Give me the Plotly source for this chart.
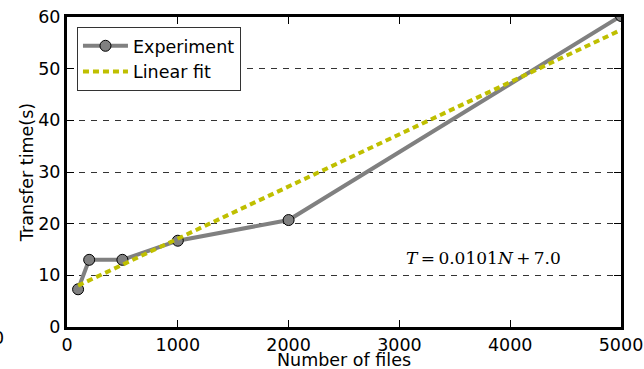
import plotly.graph_objects as go

# Data
n_files = [100, 200, 500, 1000, 2000, 5000]
transfer_time = [7.3, 13.0, 13.0, 16.7, 20.7, 60.2]
fit_slope = 0.0101
fit_intercept = 7.0
fit_x = [100, 5000]
fit_y = [fit_slope * x + fit_intercept for x in fit_x]
x_ticks = [0, 1000, 2000, 3000, 4000, 5000]
y_ticks = [0, 10, 20, 30, 40, 50, 60]

FONT = "DejaVu Sans"
FS = 17.5

fig = go.Figure()
fig.add_trace(go.Scatter(
    x=n_files, y=transfer_time, mode="lines+markers", name="Experiment",
    line=dict(color="#808080", width=4),
    marker=dict(symbol="circle", size=11, color="#808080",
                line=dict(color="black", width=1)),
))
fig.add_trace(go.Scatter(
    x=fit_x, y=fit_y, mode="lines", name="Linear fit",
    line=dict(color="#bfbf00", width=4, dash="6px,4px"),
))

fig.add_annotation(
    x=3040, y=13.35, xref="x", yref="y", xanchor="left", yanchor="middle",
    text="<i>T</i>\u2009=\u20090.0101<i>N</i>\u2009+\u20097.0", showarrow=False,
    font=dict(family="DejaVu Serif", size=17, color="black"),
)
fig.add_annotation(
    x=-0.1245, y=-0.0355, xref="paper", yref="paper", xanchor="center", yanchor="middle",
    text="0", showarrow=False, font=dict(family=FONT, size=FS, color="black"),
)
# x-axis title as annotation (to place it low enough)
fig.add_annotation(
    x=0.5, y=-0.106, xref="paper", yref="paper", xanchor="center", yanchor="middle",
    text="Number of files", showarrow=False, font=dict(family=FONT, size=FS, color="black"),
)

axis_common = dict(
    showline=True, linecolor="black", linewidth=3, mirror="ticks",
    ticks="inside", ticklen=7, tickwidth=1, tickcolor="black",
    tickfont=dict(family=FONT, size=FS, color="black"),
    zeroline=False,
)
fig.update_xaxes(
    range=[0, 5000], tickvals=x_ticks, showgrid=False,
    **axis_common,
)
fig.update_yaxes(
    range=[0, 60], tickvals=y_ticks, showgrid=True, gridcolor="#333333", gridwidth=1,
    griddash="6px,6px",
    title=dict(text="Transfer time(s)", font=dict(family=FONT, size=FS, color="black"), standoff=1),
    **axis_common,
)

fig.update_layout(
    width=644, height=369,
    margin=dict(l=67, r=23, t=17, b=42, autoexpand=False),
    paper_bgcolor="white", plot_bgcolor="white",
    font=dict(family=FONT, size=FS, color="black"),
    showlegend=True,
    legend=dict(x=0.018, y=0.968, xanchor="left", yanchor="top",
                bgcolor="white", bordercolor="#333333", borderwidth=1,
                font=dict(family=FONT, size=FS, color="black"),
                itemwidth=45, tracegroupgap=0),
)

fig.write_html("out.html", config={"displayModeBar": False},
               post_script="document.body.style.margin='0';document.body.style.overflow='hidden';")
